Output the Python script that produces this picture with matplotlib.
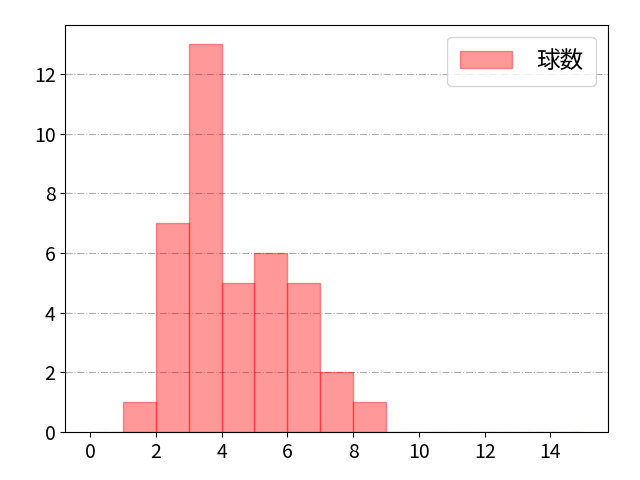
import numpy as np
import matplotlib
matplotlib.use("Agg")
import matplotlib.pyplot as plt

plt.rcParams['font.family'] = ['Noto Sans CJK JP', 'DejaVu Sans']

# pitch count per bin (bin edges 0..15)
bin_edges = list(range(0, 16))
bin_left = list(range(0, 15))
counts = [0, 1, 7, 13, 5, 6, 5, 2, 1, 0, 0, 0, 0, 0, 0]
label = "球数"

fig, ax = plt.subplots(figsize=(6.4, 4.8), dpi=100)
ax.hist(bin_left, bins=bin_edges, weights=counts, color='red', alpha=0.4,
        edgecolor='red', linewidth=1, label=label)
ax.set_xticks(np.arange(0, 15, 2))
ax.grid(axis='y', linestyle='-.', color='#b0b0b0', linewidth=0.8)
ax.set_axisbelow(True)
ax.tick_params(labelsize=14)
leg = ax.legend(loc='upper right', fontsize=17, handlelength=2.2,
                handletextpad=1.0, borderpad=0.55)
fig.subplots_adjust(left=0.102, right=0.95, top=0.948, bottom=0.1)
fig.savefig("out.png")
